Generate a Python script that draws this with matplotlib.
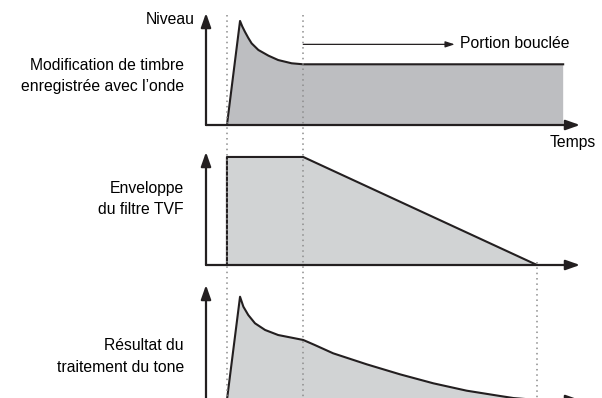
import numpy as np
import matplotlib.pyplot as plt

plt.rcParams['font.family'] = ['Liberation Sans', 'DejaVu Sans']

# key times (time axis 0..100) and envelope levels (0..100)
t_on, t_loop, t_end = 5.6, 26.0, 88.5

# panel 1: wave with recorded timbre change
wave_t = [5.6, 9.1, 9.7, 10.4, 11.3, 12.2, 14.0, 16.7, 19.3, 22.9, 26.0, 95.5, 95.5]
wave_lv = [0, 92.9, 88.0, 83.3, 77.8, 72.9, 67.0, 61.9, 58.0, 55.1, 54.2, 54.2, 0]
loop_lv = 72
loop_arrow_end = 66.5

# panel 2: TVF filter envelope
tvf_t = [5.6, 5.6, 26.0, 88.5]
tvf_lv = [0, 95.6, 95.6, 0]

# panel 3: processed tone
res_t = [5.6, 9.1, 10.0, 11.3, 13.1, 15.8, 19.3, 22.9, 26.0, 29.1, 34.0,
         43.0, 51.9, 60.8, 69.7, 78.6, 82.2, 88.5]
res_lv = [0, 89.8, 81.1, 73.9, 66.7, 60.9, 56.5, 54.2, 52.2, 47.8, 40.6,
          31.0, 22.3, 14.5, 8.1, 3.5, 1.7, 0]

W, H = 602, 398
fig = plt.figure(figsize=(W / 100, H / 100), dpi=100)

x0, x1 = 206, 580
px_per_t = (x1 - x0) / 100.0
ink = '#231f20'

def panel(base, top):
    ax = fig.add_axes([x0 / W, 1 - base / H, (x1 - x0) / W, (base - top) / H])
    ax.set_xlim(0, 100)
    ax.set_ylim(0, 100)
    ax.axis('off')
    ax.patch.set_alpha(0)
    arrow = dict(arrowstyle='-|>,head_length=0.85,head_width=0.3', lw=1.6,
                 color=ink, shrinkA=0, shrinkB=0)
    ax.annotate('', xy=(0, 1), xytext=(0, 0), xycoords='axes fraction',
                arrowprops=arrow, annotation_clip=False)
    ax.annotate('', xy=(1, 0), xytext=(0, 0), xycoords='axes fraction',
                arrowprops=arrow, annotation_clip=False)
    return ax

ax1 = panel(125, 13)
ax1.fill(wave_t, wave_lv, color='#bdbec1', lw=0)
ax1.plot(wave_t[:-1], wave_lv[:-1], color=ink, lw=1.5, solid_joinstyle='round')
ax1.annotate('', xy=(loop_arrow_end, loop_lv), xytext=(t_loop, loop_lv),
             arrowprops=dict(arrowstyle='-|>,head_length=0.55,head_width=0.18',
                             lw=0.9, color=ink, shrinkA=0, shrinkB=0))

ax2 = panel(265, 152)
ax2.fill(tvf_t, tvf_lv, color='#d1d3d4', lw=0)
ax2.plot(tvf_t, tvf_lv, color=ink, lw=1.5)

ax3 = panel(400, 285)
ax3.fill(res_t, res_lv, color='#d1d3d4', lw=0)
ax3.plot(res_t, res_lv, color=ink, lw=1.5, solid_joinstyle='round')

# overlay in pixel units for guides and labels
ov = fig.add_axes([0, 0, 1, 1])
ov.set_xlim(-x0 / px_per_t, (W - x0) / px_per_t)
ov.set_ylim(H, 0)
ov.axis('off')
ov.patch.set_alpha(0)
dots = (0, (1, 2.5))
ov.vlines([t_on, t_loop], 15, H, colors='#8c8c8c', lw=1.1, linestyles=dots)
ov.vlines([t_end], 262, H, colors='#8c8c8c', lw=1.1, linestyles=dots)

def px(x):
    return (x - x0) / px_per_t

fs = 11.3
ov.text(px(195), 19, 'Niveau', ha='right', va='center', fontsize=fs)
ov.text(px(184), 65, 'Modification de timbre', ha='right', va='center', fontsize=fs)
ov.text(px(184), 86, 'enregistrée avec l\u2019onde', ha='right', va='center', fontsize=fs)
ov.text(px(184), 189, 'Enveloppe', ha='right', va='center', fontsize=fs)
ov.text(px(184), 210, 'du filtre TVF', ha='right', va='center', fontsize=fs)
ov.text(px(184), 346, 'Résultat du', ha='right', va='center', fontsize=fs)
ov.text(px(184), 367, 'traitement du tone', ha='right', va='center', fontsize=fs)
ov.text(px(460), 44, 'Portion bouclée', ha='left', va='center', fontsize=fs)
ov.text(px(596), 143, 'Temps', ha='right', va='center', fontsize=fs)

fig.savefig('out.png', dpi=100)
